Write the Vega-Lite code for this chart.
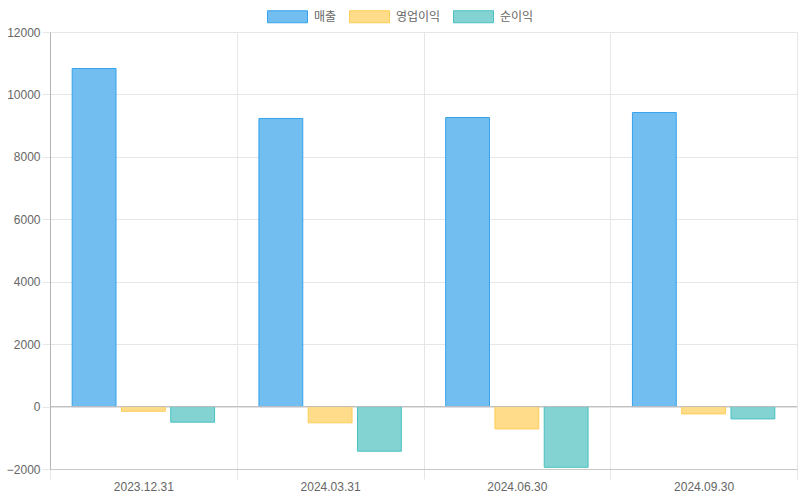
{
  "$schema": "https://vega.github.io/schema/vega-lite/v6.json",
  "width": 747,
  "height": 437,
  "autosize": {"type": "none"},
  "padding": {"left": 50, "top": 32, "right": 3, "bottom": 31},
  "background": "white",
  "config": {
    "font": "Liberation Sans",
    "view": {"stroke": null},
    "axis": {"labelFont": "Liberation Sans", "labelFontSize": 12, "labelColor": "#666666", "gridColor": "#e6e6e6", "tickColor": "#e6e6e6", "domainColor": "#c8c8c8"},
    "legend": {"labelFont": "Noto Sans CJK KR", "labelFontSize": 12, "labelColor": "#666666"}
  },
  "data": {
    "values": [
      {"date": "2023.12.31", "metric": "매출", "value": 10830},
      {"date": "2023.12.31", "metric": "영업이익", "value": -150},
      {"date": "2023.12.31", "metric": "순이익", "value": -500},
      {"date": "2024.03.31", "metric": "매출", "value": 9230},
      {"date": "2024.03.31", "metric": "영업이익", "value": -520},
      {"date": "2024.03.31", "metric": "순이익", "value": -1430},
      {"date": "2024.06.30", "metric": "매출", "value": 9260},
      {"date": "2024.06.30", "metric": "영업이익", "value": -715},
      {"date": "2024.06.30", "metric": "순이익", "value": -1945},
      {"date": "2024.09.30", "metric": "매출", "value": 9420},
      {"date": "2024.09.30", "metric": "영업이익", "value": -235},
      {"date": "2024.09.30", "metric": "순이익", "value": -395}
    ]
  },
  "layer": [
    {
      "mark": {"type": "bar", "strokeWidth": 1},
      "encoding": {
        "x": {
          "field": "date", "type": "nominal", "title": null,
          "scale": {"paddingInner": 0, "paddingOuter": 0},
          "axis": {"labelAngle": 0, "tickBand": "extent", "grid": true, "tickSize": 10, "labelPadding": 2, "domainColor": "#c8c8c8"}
        },
        "xOffset": {
          "field": "metric", "type": "nominal",
          "scale": {"domain": ["매출", "영업이익", "순이익"], "paddingInner": 0.11, "paddingOuter": 0.45}
        },
        "y": {
          "field": "value", "type": "quantitative", "title": null,
          "scale": {"domain": [-2000, 12000], "nice": false, "zero": false},
          "axis": {"values": [-2000, 0, 2000, 4000, 6000, 8000, 10000, 12000], "format": "d", "tickSize": 8, "labelPadding": 2, "domainColor": "#b4b4b4"}
        },
        "color": {
          "field": "metric", "type": "nominal", "title": null,
          "scale": {"domain": ["매출", "영업이익", "순이익"], "range": ["#72bef1", "#ffdc89", "#84d3d3"]},
          "legend": {"orient": "none", "direction": "horizontal", "legendX": 217, "legendY": -36, "symbolType": "M-1,-0.3H1V0.3H-1Z", "symbolSize": 1600, "symbolStrokeWidth": 1, "labelOffset": 6, "columnPadding": 10}
        },
        "stroke": {
          "field": "metric", "type": "nominal", "title": null,
          "scale": {"domain": ["매출", "영업이익", "순이익"], "range": ["#36a2eb", "#ffcd56", "#4bc0c0"]}
        }
      }
    },
    {
      "data": {"values": [{"v": 0}]},
      "mark": {"type": "rule", "color": "#bdbdbd", "strokeWidth": 1},
      "encoding": {"y": {"field": "v", "type": "quantitative"}}
    }
  ]
}
